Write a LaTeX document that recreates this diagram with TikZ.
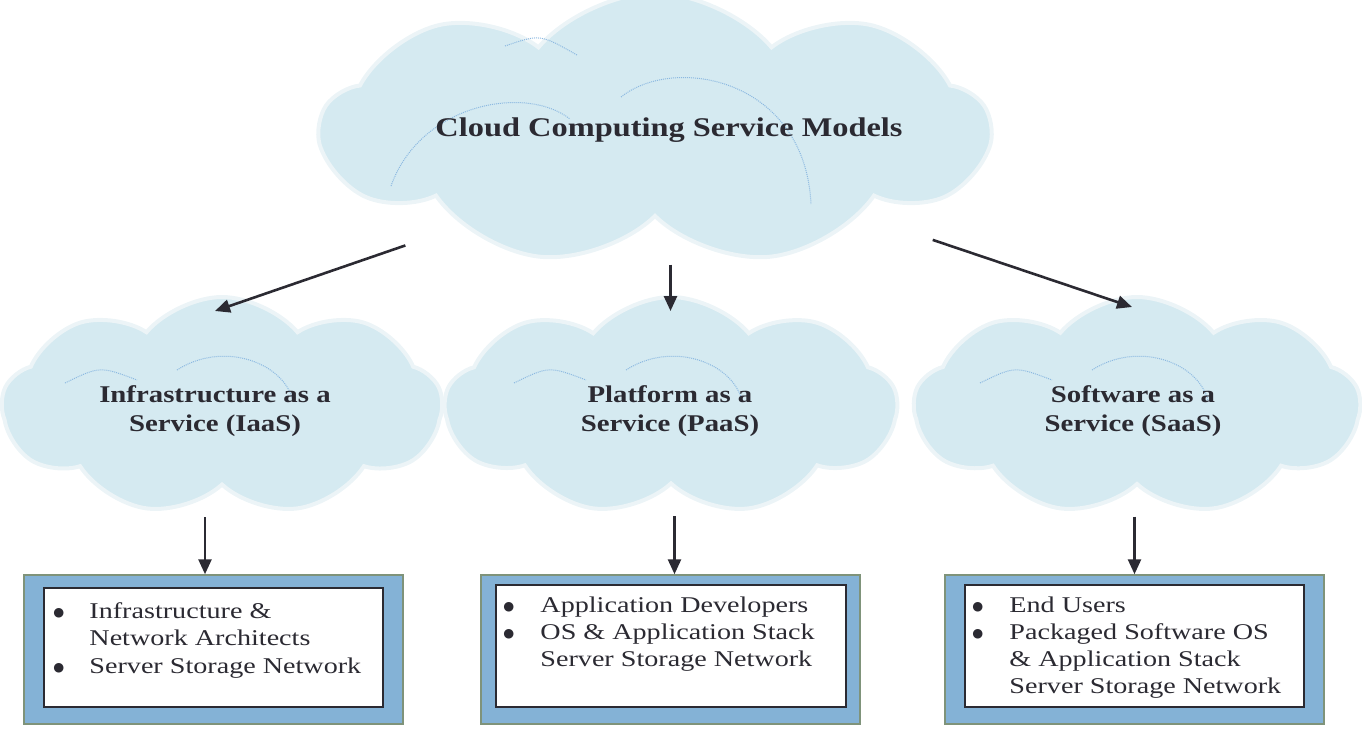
\documentclass[tikz,border=0pt]{standalone}
\usepackage{fontspec}
\setmainfont[FakeStretch=1.2]{Liberation Serif}
\newfontfamily\boxfont[FakeStretch=1.25]{Liberation Serif}
\newfontfamily\symfont{DejaVu Sans}
\usetikzlibrary{shapes.symbols,arrows.meta}

\definecolor{cloudblue}{RGB}{213,234,241}
\definecolor{cloudedge}{RGB}{236,244,247}
\definecolor{arcblue}{RGB}{140,185,225}
\definecolor{boxblue}{RGB}{132,178,214}
\definecolor{boxedge}{RGB}{127,147,122}
\definecolor{inkdark}{RGB}{43,42,50}

\newcommand{\bul}{\raisebox{2pt}{\symfont\fontsize{12.5}{13}\selectfont ●}}

\tikzset{
  cloudnode/.style={cloud, cloud puffs=9, cloud puff arc=100, cloud ignores aspect,
    fill=cloudblue, draw=cloudedge, line width=4pt, inner sep=0pt},
  highlight/.style={draw=arcblue, densely dotted, line width=1pt},
  outerbox/.style={draw=boxedge, fill=boxblue, line width=1.5pt, minimum width=379pt,
    minimum height=149pt, inner sep=0pt},
  innerbox/.style={draw=inkdark, fill=white, line width=1.5pt, inner sep=0pt},
  arr/.style={draw=inkdark, line width=2.6pt, -{Triangle[length=15pt,width=13pt]}},
  cloudlabel/.style={font=\fontsize{24}{29}\selectfont\bfseries, text=inkdark, align=center},
  boxtext/.style={font=\boxfont\fontsize{22.5}{27}\selectfont, text=inkdark, anchor=north west, inner sep=0pt}
}

\begin{document}
\begin{tikzpicture}[x=1pt,y=1pt,yscale=-1]
\useasboundingbox (0,0) rectangle (1362,729);

% clouds
\node[cloudnode, minimum width=668pt, minimum height=272pt] (top) at (655,129) {};
\node[cloudnode, minimum width=440pt, minimum height=218pt] (iaas) at (222,406) {};
\node[cloudnode, minimum width=452pt, minimum height=218pt] (paas) at (671,406) {};
\node[cloudnode, minimum width=446pt, minimum height=218pt] (saas) at (1137,406) {};

% faint highlights inside the clouds
\begin{scope}[shift={(top.center)}]
  \draw[highlight] (-264,57) .. controls (-235,-25) and (-130,-45) .. (-85,-10);
  \draw[highlight] (-34,-32) .. controls (20,-75) and (150,-50) .. (156,75);
  \draw[highlight] (-150,-83) .. controls (-115,-95) .. (-78,-74);
\end{scope}
\foreach \c in {iaas,paas,saas}{
  \begin{scope}[shift={(\c.center)}]
    \draw[highlight] (-157,-23) .. controls (-122,-40) .. (-85,-26);
    \draw[highlight] (-45,-36) .. controls (0,-65) and (60,-45) .. (71,-6);
  \end{scope}
}

\node[font=\fontsize{27}{32}\selectfont\bfseries, text=inkdark] (title) at (669,130) {Cloud Computing Service Models};
\node[cloudlabel] (iaastext) at (215,411) {Infrastructure as a\\Service (IaaS)};
\node[cloudlabel] (paastext) at (670,411) {Platform as a\\Service (PaaS)};
\node[cloudlabel] (saastext) at (1133,411) {Software as a\\Service (SaaS)};

% boxes
\node[outerbox] (iaasbox) at (213.5,649.5) {};
\node[innerbox, minimum width=339pt, minimum height=119pt] (iaasin) at (213.5,647.5) {};
\node[outerbox] (paasbox) at (670.5,649.5) {};
\node[innerbox, minimum width=350pt, minimum height=122pt] (paasin) at (671,646) {};
\node[outerbox] (saasbox) at (1134.5,649.5) {};
\node[innerbox, minimum width=339pt, minimum height=122pt] (saasin) at (1134.5,646) {};

\node[boxtext] (iaaslist) at ([xshift=10pt,yshift=12pt]iaasin.north west)
  {\begin{tabular}{@{}p{36pt}@{}l@{}}
   \bul & Infrastructure \&\\
        & Network Architects\\[1pt]
   \bul & Server Storage Network
   \end{tabular}};
\node[boxtext] (paaslist) at ([xshift=8pt,yshift=9pt]paasin.north west)
  {\begin{tabular}{@{}p{37pt}@{}l@{}}
   \bul & Application Developers\\
   \bul & OS \& Application Stack\\
        & Server Storage Network
   \end{tabular}};
\node[boxtext] (saaslist) at ([xshift=8pt,yshift=9pt]saasin.north west)
  {\begin{tabular}{@{}p{37pt}@{}l@{}}
   \bul & End Users\\
   \bul & Packaged Software OS\\
        & \& Application Stack\\
        & Server Storage Network
   \end{tabular}};

% arrows
\draw[arr] ([xshift=-54pt,yshift=21pt]top.206) -- ([xshift=-7pt,yshift=16pt]iaas.north);
\draw[arr] ([yshift=46pt]top.south -| paasbox.north) -- ([yshift=16pt]paas.north -| paasbox.north);
\draw[arr] ([xshift=73pt,yshift=24pt]top.337) -- ([xshift=-5pt,yshift=12pt]saas.north);
\draw[arr] ([xshift=-17pt,yshift=30pt]iaas.south) -- ([xshift=-17pt]iaas.south |- iaasbox.north);
\draw[arr] ([xshift=4pt,yshift=30pt]paas.south -| paasbox.north) -- ([xshift=4pt]paasbox.north);
\draw[arr] ([yshift=30pt]saas.south -| saasbox.north) -- (saasbox.north);
\end{tikzpicture}
\end{document}
